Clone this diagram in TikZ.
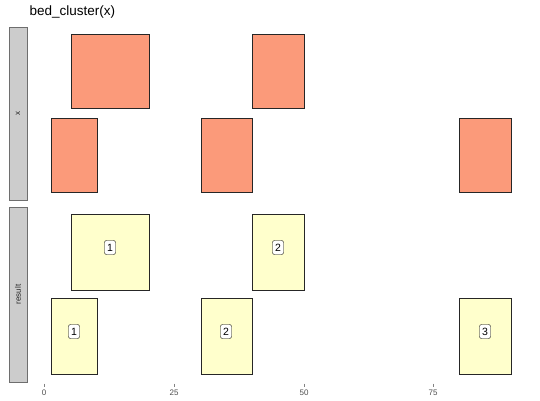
\documentclass[tikz,border=0pt]{standalone}
\usepackage{fontspec}
\setmainfont{Liberation Sans}
\definecolor{salmonfill}{RGB}{251,154,122}
\definecolor{yellowfill}{RGB}{255,255,204}
\definecolor{stripfill}{RGB}{204,204,204}
\definecolor{stripline}{RGB}{110,110,110}
\definecolor{axisgray}{RGB}{77,77,77}
\begin{document}
\begin{tikzpicture}[x=1pt,y=-1pt,
  ivl/.style={draw=black!85,line width=0.6pt},
  topivl/.style={ivl,fill=salmonfill},
  resivl/.style={ivl,fill=yellowfill},
  stripbox/.style={draw=stripline,fill=stripfill,line width=0.8pt},
  striptext/.style={font=\fontsize{8}{9}\selectfont,text=black!85},
  lbl/.style={draw=black,fill=white,rounded corners=2pt,inner sep=2.3pt,font=\fontsize{10.5}{11}\selectfont,minimum width=11pt,minimum height=14pt},
  ticklbl/.style={font=\fontsize{8}{9}\selectfont,text=axisgray},
  tickmark/.style={draw=axisgray!70,line width=0.5pt}]
\useasboundingbox (0,0) rectangle (540,400);
\node[anchor=west,font=\fontsize{13.5}{15}\selectfont] (title) at (26,12) {bed\_cluster(x)};
% strips
\draw[stripbox] (9,27) rectangle (27,200);
\node[striptext,rotate=90] (sx) at (18,113.5) {x};
\draw[stripbox] (9,207) rectangle (27,382);
\node[striptext,rotate=90] (sr) at (18,294.5) {result};
% x panel
\draw[topivl] (71.0,34) rectangle (149.0,108);
\draw[topivl] (252.0,34) rectangle (304.0,108);
\draw[topivl] (51.0,118) rectangle (97.5,192);
\draw[topivl] (201.0,118) rectangle (252.0,192);
\draw[topivl] (459.0,118) rectangle (511.0,192);
% result panel
\draw[resivl] (71.0,214) rectangle (149.0,290);
\draw[resivl] (252.0,214) rectangle (304.0,290);
\draw[resivl] (51.0,298) rectangle (97.5,374);
\draw[resivl] (201.0,298) rectangle (252.0,374);
\draw[resivl] (459.0,298) rectangle (511.0,374);
\node[lbl] (l1) at (110,247.5) {1};
\node[lbl] (l2) at (278,247.5) {2};
\node[lbl] (l3) at (74,331.5) {1};
\node[lbl] (l4) at (226,331.5) {2};
\node[lbl] (l5) at (485,331.5) {3};
% axis
\foreach \v/\px in {0/44,25/174,50/304,75/433}{
  \draw[tickmark] (\px,383.5) -- (\px,386.5);
  \node[ticklbl] (t\v) at (\px,393) {\v};
}
\end{tikzpicture}
\end{document}
